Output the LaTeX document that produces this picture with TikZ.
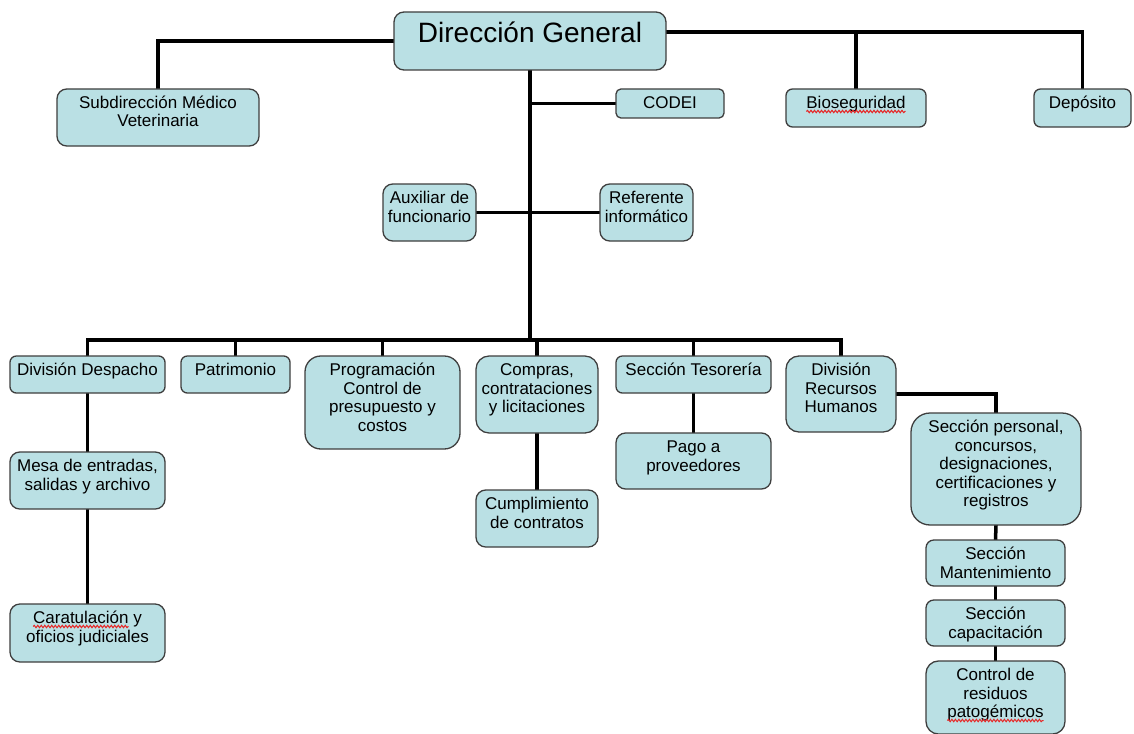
\documentclass[tikz,border=0pt]{standalone}
\usepackage{fontspec}
\setmainfont{Liberation Sans}
\usetikzlibrary{calc,decorations.pathmorphing}
\pgfdeclarelayer{bg}
\pgfsetlayers{bg,main}
\definecolor{boxfill}{RGB}{186,224,228}
\definecolor{boxline}{RGB}{62,62,62}
\definecolor{squig}{RGB}{230,40,40}
\newlength\wbio
\newlength\wcarl
\newlength\wcarw
\newlength\wpat
\newcommand\bodyfont{\fontsize{17}{18.5}\selectfont}
\newcommand\obox[6]{%
  \pgfmathsetmacro\rr{0.17*min(#4-#2,#5-#3)}%
  \node[box, rounded corners=\rr pt] (#1) at ({(#2+#4)/2},{(#3+#5)/2})
    {\parbox[c][\dimexpr#5pt-#3pt\relax][t]{\dimexpr#4pt-#2pt\relax}{\centering\rule{0pt}{19.5pt}#6}};}
\begin{document}
\settowidth\wbio{\bodyfont Bioseguridad}%
\settowidth\wcarl{\bodyfont Caratulación y}%
\settowidth\wcarw{\bodyfont Caratulación}%
\settowidth\wpat{\bodyfont patogémicos}%
\begin{tikzpicture}[x=1pt,y=-1pt,
  box/.style={draw=boxline, line width=1.3pt, fill=boxfill, inner sep=0pt, outer sep=0pt,
              font=\bodyfont},
  conn/.style={draw=black, line width=3.5pt},
  squiggle/.style={squig, line width=1pt, decorate, decoration={snake, amplitude=1.2pt, segment length=3.5pt}}]
\useasboundingbox (0,0) rectangle (1134,733);
\node[box, rounded corners=10pt] (dg) at (530,41)
  {\parbox[c][58pt][t]{272pt}{\centering\fontsize{28}{32}\selectfont\rule{0pt}{31pt}Dirección General}};
\obox{sub}{57}{89}{259}{146}{Subdirección Médico\\Veterinaria}
\obox{codei}{616}{89}{724}{118}{CODEI}
\obox{bio}{786}{89}{926}{127}{Bioseguridad}
\obox{dep}{1034}{89}{1131}{127}{Depósito}
\obox{aux}{383}{184}{476}{241}{Auxiliar de\\funcionario}
\obox{ref}{600}{184}{693}{241}{Referente\\informático}
\obox{dd}{10}{356}{165}{393}{División Despacho}
\obox{pat}{181}{356}{290}{393}{Patrimonio}
\obox{prog}{305}{356}{460}{449}{Programación\\Control de\\presupuesto y\\costos}
\obox{comp}{476}{356}{598}{433}{Compras,\\contrataciones\\y licitaciones}
\obox{tes}{616}{356}{771}{393}{Sección Tesorería}
\obox{rrhh}{786}{356}{896}{432}{División\\Recursos\\Humanos}
\obox{mesa}{10}{452}{165}{509}{Mesa de entradas,\\salidas y archivo}
\obox{car}{10}{604}{165}{662}{Caratulación y\\oficios judiciales}
\obox{cump}{476}{490}{598}{547}{Cumplimiento\\de contratos}
\obox{pago}{616}{433}{771}{489}{Pago a\\proveedores}
\obox{per}{911}{413}{1081}{525}{Sección personal,\\concursos,\\designaciones,\\certificaciones y\\registros}
\obox{man}{926}{540}{1065}{586}{Sección\\Mantenimiento}
\obox{cap}{926}{600}{1065}{646}{Sección\\capacitación}
\obox{res}{926}{661}{1065}{734}{Control de\\residuos\\patogémicos}
\coordinate (dgR) at ([yshift=9pt]dg.east);
\coordinate (bus) at (530,340);
\begin{pgfonlayer}{bg}
\draw[conn] (dg.west) -| (sub.north);
\draw[conn] (dgR) -| (dep.north);
\draw[conn] (bio.north) -- (bio.north |- dgR);
\draw[conn] (dg.south) -- (bus);
\draw[conn] (codei.west) -- (codei.west -| dg.south);
\draw[conn] (aux.east) -- (ref.west);
\draw[conn] (dd.north) |- (rrhh.north |- bus) -- (rrhh.north);
\draw[conn] (pat.north) -- (pat.north |- bus);
\draw[conn] (prog.north) -- (prog.north |- bus);
\draw[conn] (comp.north) -- (comp.north |- bus);
\draw[conn] (tes.north) -- (tes.north |- bus);
\draw[conn] (dd.south) -- (mesa.north);
\draw[conn] (mesa.south) -- (car.north);
\draw[conn] (comp.south) -- (cump.north);
\draw[conn] (tes.south) -- (pago.north);
\draw[conn] (rrhh.east) -| (per.north);
\draw[conn] (per.south) -- (man.north);
\draw[conn] (man.south) -- (cap.north);
\draw[conn] (cap.south) -- (res.north);
\end{pgfonlayer}
% spell-check underlines
\coordinate (b1) at ([xshift=-0.5\wbio, yshift=-22.5pt]bio.north);
\coordinate (b2) at ([xshift=0.5\wbio, yshift=-22.5pt]bio.north);
\draw[squiggle] (b1) -- (b2);
\coordinate (c1) at ([xshift=-0.5\wcarl, yshift=-22.5pt]car.north);
\coordinate (c2) at ([xshift=\wcarw]c1);
\draw[squiggle] (c1) -- (c2);
\coordinate (p1) at ([xshift=-0.5\wpat, yshift=-59.5pt]res.north);
\coordinate (p2) at ([xshift=0.5\wpat, yshift=-59.5pt]res.north);
\draw[squiggle] (p1) -- (p2);
\end{tikzpicture}
\end{document}
